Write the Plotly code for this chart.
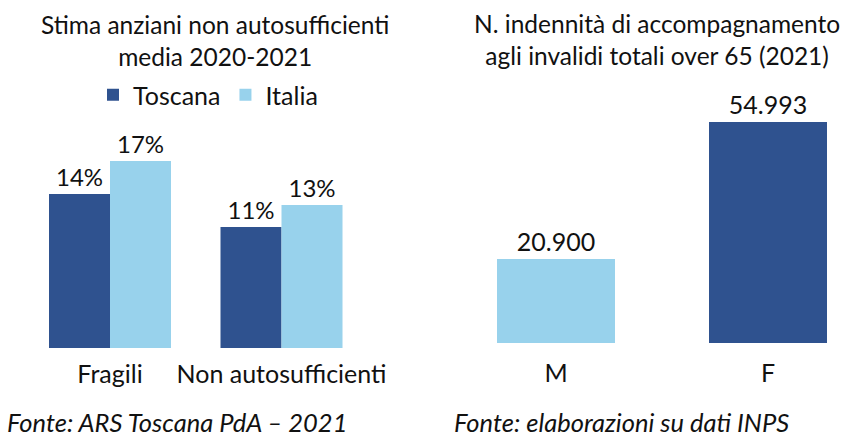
import plotly.graph_objects as go

# Data
categories_left = ["Fragili", "Non autosufficienti"]
toscana = [14, 11]
italia = [17, 13]

categories_right = ["M", "F"]
indennita = [20900, 54993]

DARK = "#2F528F"
LIGHT = "#98D2EC"
FONT = "Lato"
TXT = "#111111"
W, H = 850, 442

def px_x(p):
    return p / W

def px_y(p):
    return (H - p) / H

fig = go.Figure()
fig.add_trace(go.Bar(
    name="Toscana", x=categories_left, y=toscana, marker_color=DARK,
    text=[f"{v}%" for v in toscana], textposition="outside", cliponaxis=False,
    textfont=dict(size=24, color=TXT, family=FONT),
    xaxis="x", yaxis="y", marker_line_width=0,
))
fig.add_trace(go.Bar(
    name="Italia", x=categories_left, y=italia, marker_color=LIGHT,
    text=[f"{v}%" for v in italia], textposition="outside", cliponaxis=False,
    textfont=dict(size=24, color=TXT, family=FONT),
    xaxis="x", yaxis="y", marker_line_width=0,
))
fig.add_trace(go.Bar(
    x=categories_right, y=indennita, marker_color=[LIGHT, DARK],
    texttemplate="%{y:,}", textposition="outside", cliponaxis=False,
    textfont=dict(size=25, color=TXT, family=FONT),
    xaxis="x2", yaxis="y2", showlegend=False, marker_line_width=0,
    width=118 / 212,
))

fig.update_layout(
    template="none",
    width=W, height=H, margin=dict(l=0, r=0, t=0, b=0, autoexpand=False),
    paper_bgcolor="white", plot_bgcolor="white",
    separators=",.",
    barmode="group", bargap=1 - 122 / 171.5, bargroupgap=0,
    font=dict(family=FONT, color=TXT),
    xaxis=dict(domain=[px_x(24.25), px_x(367.25)], range=[-0.5, 1.5], automargin=False,
               showgrid=False, showline=False, zeroline=False, ticks="",
               tickfont=dict(size=25, family=FONT, color=TXT), ticklabelstandoff=9),
    yaxis=dict(domain=[px_y(348), px_y(130)], range=[0, 218 / 11], visible=False,
               automargin=False),
    xaxis2=dict(domain=[px_x(450), 1.0], range=[-0.5, -0.5 + 400 / 212], automargin=False,
                showgrid=False, showline=False, zeroline=False, ticks="",
                tickfont=dict(size=25, family=FONT, color=TXT), ticklabelstandoff=8),
    yaxis2=dict(domain=[px_y(343), px_y(100)], range=[0, 243 / (221 / 54993)],
                visible=False, anchor="x2", automargin=False),
    legend=dict(orientation="h", x=px_x(208), xanchor="center", y=px_y(95),
                yanchor="middle", font=dict(size=25, family=FONT, color=TXT),
                tracegroupgap=0, bgcolor="rgba(0,0,0,0)", borderwidth=0),
    showlegend=True,
)

annotations = [
    dict(text="Stima anziani non autosufficienti<br>media 2020-2021", x=px_x(215), y=px_y(40),
         font=dict(size=24.5)),
    dict(text="N. indennità di accompagnamento<br>agli invalidi totali over 65 (2021)", x=px_x(657),
         y=px_y(39), font=dict(size=24.5)),
    dict(text="<i>Fonte: ARS Toscana PdA – 2021</i>", x=px_x(177), y=px_y(422), font=dict(size=25.5)),
    dict(text="<i>Fonte: elaborazioni su dati INPS</i>", x=px_x(621), y=px_y(422), font=dict(size=25.5)),
]
for a in annotations:
    fig.add_annotation(xref="paper", yref="paper", showarrow=False, xanchor="center",
                       yanchor="middle", **a)

fig.write_html(
    "out.html",
    config={"displayModeBar": False},
    post_script=(
        "document.documentElement.style.overflow='hidden';"
        "document.body.style.margin='0';document.body.style.overflow='hidden';"
    ),
)
